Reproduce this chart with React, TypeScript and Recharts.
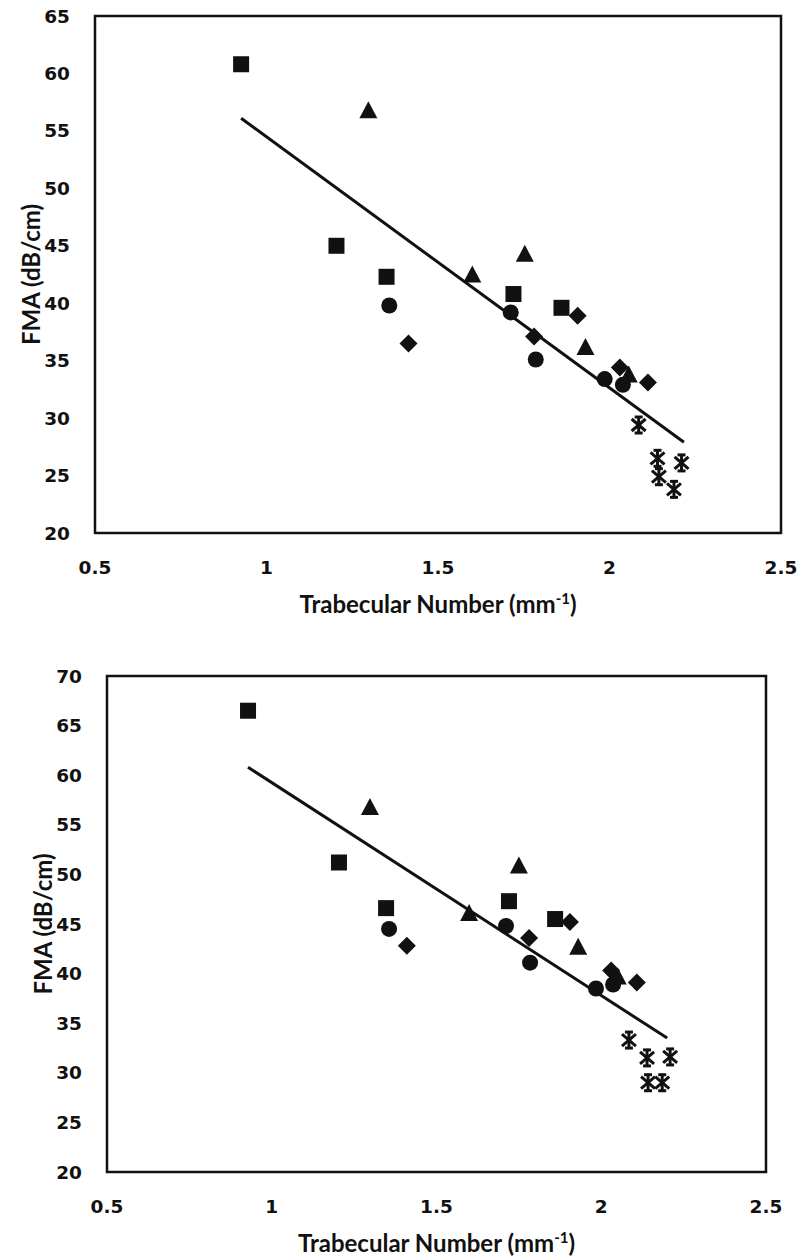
import React from "react";
import { ScatterChart, Scatter, XAxis, YAxis, ReferenceArea, Label } from "recharts";

type Pt = { x: number; y: number };

const X_TICKS = [0.5, 1, 1.5, 2, 2.5];
const TOP_Y_TICKS = [20, 25, 30, 35, 40, 45, 50, 55, 60, 65];
const BOTTOM_Y_TICKS = [20, 25, 30, 35, 40, 45, 50, 55, 60, 65, 70];

// upper panel
const topSquares: Pt[] = [
  { x: 0.926, y: 60.8 },
  { x: 1.204, y: 45.0 },
  { x: 1.35, y: 42.3 },
  { x: 1.72, y: 40.8 },
  { x: 1.86, y: 39.6 },
];
const topTriangles: Pt[] = [
  { x: 1.297, y: 56.8 },
  { x: 1.6, y: 42.5 },
  { x: 1.753, y: 44.3 },
  { x: 1.93, y: 36.2 },
  { x: 2.056, y: 33.8 },
];
const topCircles: Pt[] = [
  { x: 1.358, y: 39.8 },
  { x: 1.712, y: 39.2 },
  { x: 1.785, y: 35.1 },
  { x: 1.986, y: 33.4 },
  { x: 2.039, y: 32.9 },
];
const topDiamonds: Pt[] = [
  { x: 1.414, y: 36.5 },
  { x: 1.78, y: 37.1 },
  { x: 1.907, y: 38.9 },
  { x: 2.03, y: 34.4 },
  { x: 2.112, y: 33.1 },
];
const topStars: Pt[] = [
  { x: 2.085, y: 29.4 },
  { x: 2.14, y: 26.5 },
  { x: 2.21, y: 26.1 },
  { x: 2.144, y: 24.9 },
  { x: 2.188, y: 23.8 },
];
const topTrend: Pt[] = [
  { x: 0.926, y: 56.1 },
  { x: 2.217, y: 27.9 },
];

// lower panel
const bottomSquares: Pt[] = [
  { x: 0.928, y: 66.5 },
  { x: 1.204, y: 51.2 },
  { x: 1.347, y: 46.6 },
  { x: 1.72, y: 47.3 },
  { x: 1.86, y: 45.5 },
];
const bottomTriangles: Pt[] = [
  { x: 1.298, y: 56.8 },
  { x: 1.599, y: 46.1 },
  { x: 1.75, y: 50.9 },
  { x: 1.93, y: 42.7 },
  { x: 2.05, y: 39.7 },
];
const bottomCircles: Pt[] = [
  { x: 1.356, y: 44.5 },
  { x: 1.711, y: 44.8 },
  { x: 1.784, y: 41.1 },
  { x: 1.984, y: 38.5 },
  { x: 2.036, y: 38.9 },
];
const bottomDiamonds: Pt[] = [
  { x: 1.41, y: 42.8 },
  { x: 1.781, y: 43.6 },
  { x: 1.905, y: 45.2 },
  { x: 2.03, y: 40.3 },
  { x: 2.108, y: 39.1 },
];
const bottomStars: Pt[] = [
  { x: 2.084, y: 33.3 },
  { x: 2.139, y: 31.5 },
  { x: 2.209, y: 31.6 },
  { x: 2.142, y: 29.0 },
  { x: 2.185, y: 29.0 },
];
const bottomTrend: Pt[] = [
  { x: 0.928, y: 60.8 },
  { x: 2.2, y: 33.5 },
];

const INK = "#111";
const tickStyle = { fontFamily: "DejaVu Sans", fontWeight: 700, fontSize: 18.5, fill: INK };
const titleFont = "Lato";

const square = (p: any) => (
  <rect x={p.cx - 8} y={p.cy - 8} width={16} height={16} fill={INK} />
);
const triangle = (p: any) => (
  <polygon
    points={`${p.cx},${p.cy - 9} ${p.cx + 9},${p.cy + 8} ${p.cx - 9},${p.cy + 8}`}
    fill={INK}
  />
);
const circle = (p: any) => <circle cx={p.cx} cy={p.cy} r={8} fill={INK} />;
const diamond = (p: any) => (
  <polygon
    points={`${p.cx},${p.cy - 9} ${p.cx + 9},${p.cy} ${p.cx},${p.cy + 9} ${p.cx - 9},${p.cy}`}
    fill={INK}
  />
);
const star = (p: any) => (
  <g stroke={INK} strokeWidth={3}>
    <line x1={p.cx - 7} y1={p.cy - 6} x2={p.cx + 7} y2={p.cy + 6} />
    <line x1={p.cx - 7} y1={p.cy + 6} x2={p.cx + 7} y2={p.cy - 6} />
    <line x1={p.cx} y1={p.cy - 9} x2={p.cx} y2={p.cy + 9} />
    <line x1={p.cx - 4} y1={p.cy - 8} x2={p.cx + 4} y2={p.cy - 8} />
    <line x1={p.cx - 4} y1={p.cy + 8} x2={p.cx + 4} y2={p.cy + 8} />
  </g>
);
const noDot = () => <g />;

const xTitle = (props: any) => {
  const vb = props.viewBox || { x: 0, y: 0, width: 0 };
  const cx = vb.x + vb.width / 2;
  return (
    <text
      x={cx}
      y={vb.y + 80}
      textAnchor="middle"
      fontFamily={titleFont}
      fontWeight={700}
      fontSize={24}
      fill={INK}
    >
      Trabecular Number (mm
      <tspan fontSize={15} dy={-9}>-1</tspan>
      <tspan dy={9}>)</tspan>
    </text>
  );
};

const yTitle = (props: any) => {
  const vb = props.viewBox || { x: 0, y: 0, height: 0 };
  const cy = vb.y + vb.height / 2;
  const cx = vb.titleX;
  return (
    <text
      x={cx}
      y={cy}
      transform={`rotate(-90 ${cx} ${cy})`}
      textAnchor="middle"
      dominantBaseline="central"
      fontFamily={titleFont}
      fontWeight={700}
      fontSize={24}
      fill={INK}
    >
      FMA (dB/cm)
    </text>
  );
};

type PanelProps = {
  height: number;
  margin: { top: number; right: number; bottom: number; left: number };
  yAxisWidth: number;
  yTitleX: number;
  yTicks: number[];
  squares: Pt[];
  triangles: Pt[];
  circles: Pt[];
  diamonds: Pt[];
  stars: Pt[];
  trend: Pt[];
};

function Panel(p: PanelProps) {
  const yMin = p.yTicks[0];
  const yMax = p.yTicks[p.yTicks.length - 1];
  return (
    <ScatterChart width={801} height={p.height} margin={p.margin}>
      <ReferenceArea
        x1={0.5}
        x2={2.5}
        y1={yMin}
        y2={yMax}
        fill="none"
        stroke={INK}
        strokeWidth={2.5}
        ifOverflow="visible"
      />
      <XAxis
        type="number"
        dataKey="x"
        domain={[0.5, 2.5]}
        ticks={X_TICKS}
        interval={0}
        axisLine={false}
        tickLine={false}
        tickMargin={22}
        height={60}
        tick={tickStyle}
      >
        <Label content={xTitle} />
      </XAxis>
      <YAxis
        type="number"
        dataKey="y"
        domain={[yMin, yMax]}
        ticks={p.yTicks}
        interval={0}
        axisLine={false}
        tickLine={false}
        tickMargin={19}
        width={p.yAxisWidth}
        tick={tickStyle}
      >
        <Label content={(lp: any) => yTitle({ ...lp, viewBox: { ...lp.viewBox, titleX: p.yTitleX } })} />
      </YAxis>
      <Scatter data={p.trend} line={{ stroke: INK, strokeWidth: 3 }} shape={noDot} isAnimationActive={false} />
      <Scatter data={p.squares} shape={square} isAnimationActive={false} />
      <Scatter data={p.triangles} shape={triangle} isAnimationActive={false} />
      <Scatter data={p.circles} shape={circle} isAnimationActive={false} />
      <Scatter data={p.diamonds} shape={diamond} isAnimationActive={false} />
      <Scatter data={p.stars} shape={star} isAnimationActive={false} />
    </ScatterChart>
  );
}

export default function App() {
  return (
    <div style={{ position: "absolute", left: 0, top: 0, width: 801, height: 1259, background: "#fff" }}>
      <Panel
        height={620}
        margin={{ top: 16, right: 20, bottom: 27, left: 0 }}
        yAxisWidth={95}
        yTitleX={30}
        yTicks={TOP_Y_TICKS}
        squares={topSquares}
        triangles={topTriangles}
        circles={topCircles}
        diamonds={topDiamonds}
        stars={topStars}
        trend={topTrend}
      />
      <Panel
        height={639}
        margin={{ top: 56, right: 35, bottom: 27, left: 0 }}
        yAxisWidth={107}
        yTitleX={42}
        yTicks={BOTTOM_Y_TICKS}
        squares={bottomSquares}
        triangles={bottomTriangles}
        circles={bottomCircles}
        diamonds={bottomDiamonds}
        stars={bottomStars}
        trend={bottomTrend}
      />
    </div>
  );
}
